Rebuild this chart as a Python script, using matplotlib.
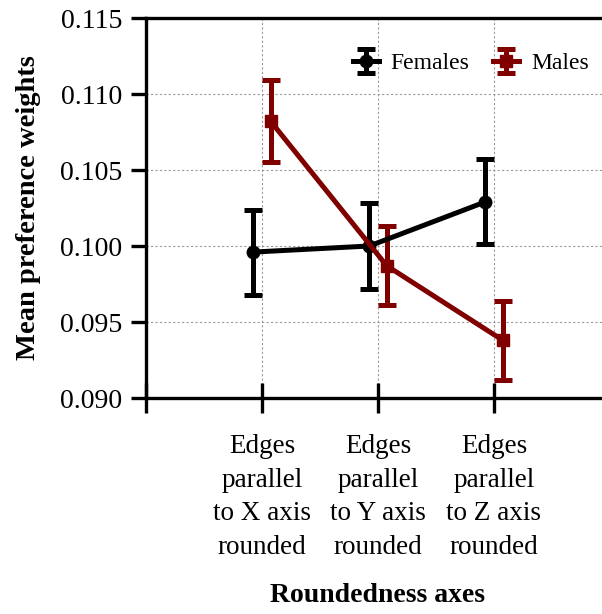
import matplotlib
matplotlib.use("Agg")
import matplotlib.pyplot as plt
import numpy as np

plt.rcParams['font.family'] = ['Liberation Serif', 'DejaVu Serif']

categories = ["Edges\nparallel\nto X axis\nrounded",
              "Edges\nparallel\nto Y axis\nrounded",
              "Edges\nparallel\nto Z axis\nrounded"]
females_mean = [0.0996, 0.1000, 0.1029]
females_err = [0.0028, 0.0028, 0.0028]
males_mean = [0.1082, 0.0987, 0.0938]
males_err = [0.0027, 0.0026, 0.0026]
yticks = [0.090, 0.095, 0.100, 0.105, 0.110, 0.115]

fig = plt.figure(figsize=(6.02, 6.14), dpi=100)
ax = fig.add_axes([146/602, 1-398/614, 464/602, (398-18)/614])

x = np.arange(1, len(categories)+1)
off = 0.075
lw = 3.6
ax.errorbar(x - off, females_mean, yerr=females_err, color='black', lw=lw,
            marker='o', ms=9, capsize=6.5, capthick=lw, elinewidth=lw,
            label='Females', zorder=3)
ax.errorbar(x + off, males_mean, yerr=males_err, color='#800000', lw=lw,
            marker='s', ms=9, capsize=6.5, capthick=lw, elinewidth=lw,
            label='Males', zorder=3)

ax.set_xlim(0, 4)
ax.set_ylim(0.090, 0.115)
ax.set_yticks(yticks)
ax.set_yticklabels([f"{v:.3f}" for v in yticks])
ax.set_xticks([0, 1, 2, 3, 4])
ax.set_xticklabels([""] + categories + [""])

ax.grid(True, ls=(0, (2, 2)), color='#999999', lw=0.8)
ax.set_axisbelow(True)
for s in ['left', 'bottom', 'top']:
    ax.spines[s].set_linewidth(2.4)
ax.spines['right'].set_visible(False)

ax.tick_params(axis='y', direction='out', length=11, width=2.4, labelsize=20, pad=6)
ax.tick_params(axis='x', direction='inout', length=22, width=2.4, labelsize=19.5, pad=15)
for lab in ax.get_xticklabels():
    lab.set_linespacing(1.45)

ax.set_ylabel("Mean preference weights", fontsize=20.5, fontweight='bold', labelpad=14)
ax.set_xlabel("Roundedness axes", fontsize=20, fontweight='bold', labelpad=17)

leg = ax.legend(loc='upper right', bbox_to_anchor=(1.0, 0.965), ncol=2, frameon=False,
                fontsize=17, handlelength=1.1, columnspacing=1.0, handletextpad=0.5)

fig.savefig("out.png", dpi=100)
